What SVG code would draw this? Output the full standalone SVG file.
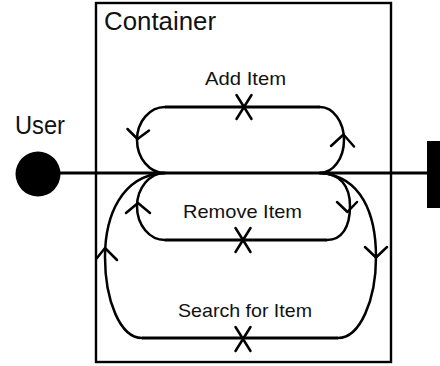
<svg xmlns="http://www.w3.org/2000/svg" width="440" height="366" viewBox="0 0 440 366">
<style>
  .t { font-family: "Liberation Sans", Arial, sans-serif; fill: #111; }
  .big { font-size: 25px; }
  .lbl { font-size: 18.5px; }
  .ln { fill: none; stroke: #000; stroke-width: 2.5; stroke-linecap: round; stroke-linejoin: round; }
  .thick { fill: none; stroke: #000; stroke-width: 3.2; }
  .box { fill: none; stroke: #000; stroke-width: 2.4; }
</style>
<rect width="440" height="366" fill="#fff"/>
<g id="container">
  <rect class="box" x="96" y="3" width="295" height="359"/>
  <text class="t big" x="104" y="30" textLength="112" lengthAdjust="spacingAndGlyphs">Container</text>
</g>
<g id="user">
  <text class="t big" x="15" y="134" textLength="50" lengthAdjust="spacingAndGlyphs">User</text>
  <circle cx="38" cy="174" r="22.5" fill="#000"/>
</g>
<g id="system">
  <rect x="427" y="141" width="13" height="67" fill="#000"/>
</g>
<g id="connectors">
  <line class="thick" x1="58" y1="173" x2="428" y2="173"/>
  <g id="add-item">
    <path class="ln" d="M165,107 A28,33 0 0 0 165,173"/>
    <path class="ln" d="M320,107 A24,33 0 0 1 320,173"/>
    <line class="thick" x1="165" y1="107" x2="320" y2="107"/>
    <path class="ln" d="M236.5,95 L251.5,119 M251.5,95 L236.5,119"/>
    <path class="ln" d="M127.5,129 L137.5,139 L149,130.5"/>
    <path class="ln" d="M331,146 L343.5,134.5 L354,146.5"/>
    <text class="t lbl" x="205" y="85" textLength="81" lengthAdjust="spacingAndGlyphs">Add Item</text>
  </g>
  <g id="remove-item">
    <path class="ln" d="M165,173 A28,33.5 0 0 0 165,240"/>
    <path class="ln" d="M320,173 C340,173 350,186 350,206 C350,227 342,240 327,240"/>
    <line class="thick" x1="165" y1="240" x2="327" y2="240"/>
    <path class="ln" d="M235.5,228 L250.5,252 M250.5,228 L235.5,252"/>
    <path class="ln" d="M126,213 L138,203 L150,213"/>
    <path class="ln" d="M337,202 L347.5,212 L357,202"/>
    <text class="t lbl" x="183" y="218" textLength="119" lengthAdjust="spacingAndGlyphs">Remove Item</text>
  </g>
  <g id="search-item">
    <path class="ln" d="M163,173 C122,176 105,215 105,257 C105,300 120,338 142,338"/>
    <path class="ln" d="M320,173 C362,176 376,215 376,257 C376,300 360,338 338,338"/>
    <line class="thick" x1="142" y1="338" x2="338" y2="338"/>
    <path class="ln" d="M235.5,327 L250.5,351 M250.5,327 L235.5,351"/>
    <path class="ln" d="M97,258 L105,248 L117,260"/>
    <path class="ln" d="M365,247 L376,257.5 L387,247"/>
    <text class="t lbl" x="178" y="317" textLength="134" lengthAdjust="spacingAndGlyphs">Search for Item</text>
  </g>
</g>
</svg>
